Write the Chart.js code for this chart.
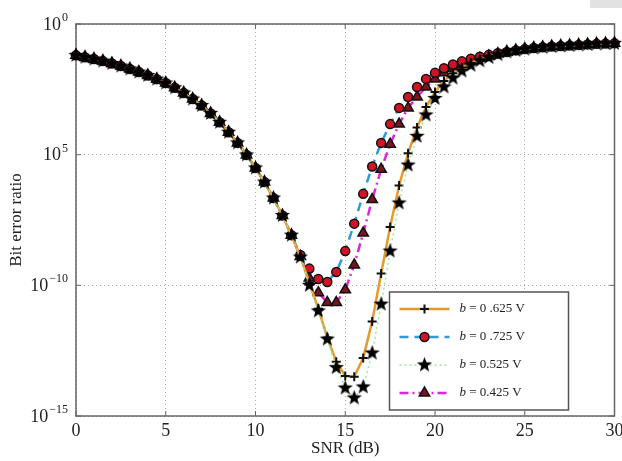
<!DOCTYPE html>
<html lang="en">
<head>
<meta charset="UTF-8">
<title>Bit error ratio vs SNR</title>
<script src="https://cdn.jsdelivr.net/npm/chart.js"></script>
<style>
  html, body { margin: 0; padding: 0; background: #fff; }
  .chart-container { width: 622px; height: 461px; }
</style>
</head>
<body>
<div class="chart-container"><canvas id="berChart" width="622" height="461"></canvas></div>
<script>
  // SNR axis (dB)
  const snr = [0, 0.5, 1, 1.5, 2, 2.5, 3, 3.5, 4, 4.5, 5, 5.5, 6, 6.5, 7, 7.5, 8, 8.5, 9, 9.5,
    10, 10.5, 11, 11.5, 12, 12.5, 13, 13.5, 14, 14.5, 15, 15.5, 16, 16.5, 17, 17.5, 18, 18.5, 19, 19.5,
    20, 20.5, 21, 21.5, 22, 22.5, 23, 23.5, 24, 24.5, 25, 25.5, 26, 26.5, 27, 27.5, 28, 28.5, 29, 29.5, 30];

  // log10(bit error ratio)
  const ber0625 = [-1.20, -1.27, -1.34, -1.42, -1.51, -1.61, -1.72, -1.84, -1.97, -2.11, -2.26, -2.44, -2.64, -2.87,
    -3.12, -3.42, -3.76, -4.14, -4.55, -5.01, -5.51, -6.05, -6.66, -7.33, -8.08,
    -8.90, -9.90, -10.90, -12.00, -12.92, -13.47, -13.50, -12.78, -11.38, -9.55, -7.77, -6.18, -4.95, -3.96, -3.18,
    -2.60, -2.18, -1.88, -1.66, -1.49, -1.36, -1.25, -1.16,
    -1.07, -1.01, -0.96, -0.92, -0.89, -0.86, -0.84, -0.82, -0.80, -0.78, -0.76, -0.75, -0.74];
  const ber0725 = [-1.20, -1.27, -1.34, -1.42, -1.51, -1.61, -1.72, -1.84, -1.97, -2.11, -2.26, -2.44, -2.64, -2.87,
    -3.12, -3.42, -3.76, -4.14, -4.55, -5.01, -5.51, -6.05, -6.66, -7.33, -8.08,
    -8.84, -9.36, -9.76, -9.87, -9.49, -8.69, -7.64, -6.50, -5.45, -4.55, -3.83, -3.21, -2.79, -2.41, -2.10,
    -1.87, -1.69, -1.55, -1.43, -1.33, -1.25, -1.18, -1.12,
    -1.07, -1.01, -0.96, -0.92, -0.89, -0.86, -0.84, -0.82, -0.80, -0.78, -0.76, -0.75, -0.74];
  const ber0525 = [-1.20, -1.27, -1.34, -1.42, -1.51, -1.61, -1.72, -1.84, -1.97, -2.11, -2.26, -2.44, -2.64, -2.87,
    -3.12, -3.42, -3.76, -4.14, -4.55, -5.01, -5.51, -6.05, -6.66, -7.33, -8.08,
    -8.92, -10.00, -10.98, -12.06, -13.15, -13.93, -14.31, -13.89, -12.59, -10.72, -8.69, -6.85, -5.40, -4.30, -3.48,
    -2.85, -2.41, -2.07, -1.80, -1.58, -1.41, -1.28, -1.17,
    -1.07, -1.01, -0.96, -0.92, -0.89, -0.86, -0.84, -0.82, -0.80, -0.78, -0.76, -0.75, -0.74];
  const ber0425 = [-1.20, -1.27, -1.34, -1.42, -1.51, -1.61, -1.72, -1.84, -1.97, -2.11, -2.26, -2.44, -2.64, -2.87,
    -3.12, -3.42, -3.76, -4.14, -4.55, -5.01, -5.51, -6.05, -6.66, -7.33, -8.08,
    -8.90, -9.72, -10.28, -10.66, -10.66, -10.17, -9.22, -8.00, -6.72, -5.56, -4.60, -3.83, -3.21, -2.79, -2.41,
    -2.10, -1.87, -1.69, -1.54, -1.42, -1.31, -1.22, -1.14,
    -1.07, -1.01, -0.96, -0.92, -0.89, -0.86, -0.84, -0.82, -0.80, -0.78, -0.76, -0.75, -0.74];

  const seriesLabels = ['= 0 .625 V', '= 0 .725 V', '= 0.525 V', '= 0.425 V'];
  const yTickValues = [-15, -10, -5, 0];
  const yTickExponents = ['\u221215', '\u221210', '5', '0'];   // as printed on the original axis

  const FONT = "'Liberation Serif', 'DejaVu Serif', serif";

  function makeStar(size, outer, inner) {
    const c = document.createElement('canvas');
    c.width = c.height = size;
    const g = c.getContext('2d');
    g.beginPath();
    for (let i = 0; i < 10; i++) {
      const r = i % 2 ? inner : outer;
      const a = -Math.PI / 2 + i * Math.PI / 5;
      g.lineTo(size / 2 + r * Math.cos(a), size / 2 + r * Math.sin(a));
    }
    g.closePath();
    g.fillStyle = '#000';
    g.fill();
    return c;
  }
  const star = makeStar(17, 8, 3.3);

  // axes box, inward ticks, y tick labels, legend
  const framePlugin = {
    id: 'frame',
    beforeDraw(chart) {
      const ctx = chart.ctx;
      ctx.save();
      ctx.fillStyle = '#fff';
      ctx.fillRect(0, 0, chart.width, chart.height);
      ctx.fillStyle = '#e2e2e2';
      ctx.fillRect(590, 0, 32, 8);
      ctx.restore();
    },
    beforeDatasetsDraw(chart) {
      const { ctx, chartArea: a, scales } = chart;
      ctx.save();
      ctx.strokeStyle = '#666';
      ctx.lineWidth = 1.5;
      ctx.strokeRect(a.left, a.top, a.right - a.left, a.bottom - a.top);
      ctx.lineWidth = 1;
      ctx.beginPath();
      scales.x.ticks.forEach(t => {
        const x = scales.x.getPixelForValue(t.value);
        ctx.moveTo(x, a.bottom); ctx.lineTo(x, a.bottom - 5);
        ctx.moveTo(x, a.top); ctx.lineTo(x, a.top + 5);
      });
      yTickValues.forEach(v => {
        const y = scales.y.getPixelForValue(v);
        ctx.moveTo(a.left, y); ctx.lineTo(a.left + 5, y);
        ctx.moveTo(a.right, y); ctx.lineTo(a.right - 5, y);
      });
      ctx.stroke();
      ctx.restore();
    },
    afterDraw(chart) {
      const { ctx, chartArea: a, scales } = chart;
      ctx.save();
      // y tick labels 10^n
      ctx.fillStyle = '#222';
      ctx.textBaseline = 'middle';
      yTickValues.forEach((v, i) => {
        const y = scales.y.getPixelForValue(v);
        ctx.font = '12px ' + FONT;
        const ew = ctx.measureText(yTickExponents[i]).width;
        const ex = a.left - 8 - ew;
        ctx.textAlign = 'left';
        ctx.fillText(yTickExponents[i], ex, y - 6);
        ctx.font = '18px ' + FONT;
        ctx.textAlign = 'right';
        ctx.fillText('10', ex - 1, y + 1);
      });

      // legend
      const bx = a.right - 225, by = a.bottom - 124, bw = 179, bh = 118;
      ctx.fillStyle = '#fff';
      ctx.fillRect(bx, by, bw, bh);
      ctx.strokeStyle = '#555';
      ctx.lineWidth = 1.5;
      ctx.strokeRect(bx, by, bw, bh);
      chart.data.datasets.forEach((ds, i) => {
        const y = by + 17 + i * 28;
        const x0 = bx + 10, x1 = bx + 60;
        ctx.save();
        ctx.strokeStyle = ds.borderColor;
        ctx.lineWidth = ds.borderWidth;
        ctx.setLineDash(ds.borderDash || []);
        ctx.beginPath();
        ctx.moveTo(x0, y); ctx.lineTo(x1, y);
        ctx.stroke();
        ctx.restore();
        ctx.save();
        ctx.fillStyle = ds.pointBackgroundColor;
        ctx.strokeStyle = ds.pointBorderColor;
        ctx.lineWidth = ds.pointBorderWidth;
        Chart.helpers.drawPoint(ctx, {
          pointStyle: ds.pointStyle, radius: ds.pointRadius, rotation: 0, borderWidth: ds.pointBorderWidth
        }, (x0 + x1) / 2, y);
        ctx.restore();
        ctx.fillStyle = '#222';
        ctx.textAlign = 'left';
        ctx.textBaseline = 'middle';
        ctx.font = 'italic 13px ' + FONT;
        const tx = bx + 70;
        ctx.fillText('b', tx, y);
        const bw0 = ctx.measureText('b ').width;
        ctx.font = '13px ' + FONT;
        ctx.fillText(seriesLabels[i], tx + bw0, y);
      });
      ctx.restore();
    }
  };

  const ctx = document.getElementById('berChart').getContext('2d');

  new Chart(ctx, {
    type: 'line',
    data: {
      labels: snr,
      datasets: [{
        label: 'b = 0 .625 V',
        data: ber0625,
        borderColor: '#e59a2c',
        borderWidth: 2.5,
        pointStyle: 'cross',
        pointRadius: 4.5,
        pointBorderWidth: 2,
        pointBorderColor: '#111',
        pointBackgroundColor: '#111',
        order: 1
      }, {
        label: 'b = 0 .725 V',
        data: ber0725,
        borderColor: '#2e9bd6',
        borderWidth: 2.5,
        borderDash: [9, 6],
        pointStyle: 'circle',
        pointRadius: 4.5,
        pointBorderWidth: 1.5,
        pointBorderColor: '#111',
        pointBackgroundColor: '#d01426',
        order: 2
      }, {
        label: 'b = 0.525 V',
        data: ber0525,
        borderColor: '#9de89a',
        borderWidth: 1.5,
        borderDash: [2, 3],
        pointStyle: star,
        pointRadius: 7,
        pointBorderWidth: 0,
        pointBorderColor: '#000',
        pointBackgroundColor: '#000',
        order: 0
      }, {
        label: 'b = 0.425 V',
        data: ber0425,
        borderColor: '#e024dc',
        borderWidth: 2.5,
        borderDash: [9, 4, 2, 4],
        pointStyle: 'triangle',
        pointRadius: 6,
        pointBorderWidth: 1.5,
        pointBorderColor: '#111',
        pointBackgroundColor: '#7a1420',
        order: 3
      }]
    },
    options: {
      responsive: false,
      animation: false,
      clip: false,
      layout: { padding: { top: 24, right: 6, left: 0, bottom: 0 } },
      plugins: {
        legend: { display: false },
        tooltip: { enabled: false }
      },
      scales: {
        x: {
          type: 'linear',
          min: 0,
          max: 30,
          ticks: {
            stepSize: 5,
            color: '#222',
            padding: 4,
            font: { family: FONT, size: 18 }
          },
          grid: { color: '#aaa', lineWidth: 1, drawTicks: false },
          border: { display: false, dash: [1, 3] },
          title: {
            display: true,
            text: 'SNR (dB)',
            color: '#222',
            padding: { top: 0, bottom: 2 },
            font: { family: FONT, size: 17 }
          },
          afterFit: s => { s.height = 45; s.paddingLeft = 0; s.paddingRight = 0; }
        },
        y: {
          min: -15,
          max: 0,
          ticks: { stepSize: 5, display: false },
          afterBuildTicks: s => { s.ticks = yTickValues.map(v => ({ value: v })); },
          grid: { color: '#aaa', lineWidth: 1, drawTicks: false },
          border: { display: false, dash: [1, 3] },
          title: {
            display: true,
            text: 'Bit error ratio',
            color: '#222',
            padding: { top: 6, bottom: 0 },
            font: { family: FONT, size: 17 }
          },
          afterFit: s => { s.width = 76; s.paddingTop = 0; s.paddingBottom = 0; }
        }
      }
    },
    plugins: [framePlugin]
  });
</script>
</body>
</html>
